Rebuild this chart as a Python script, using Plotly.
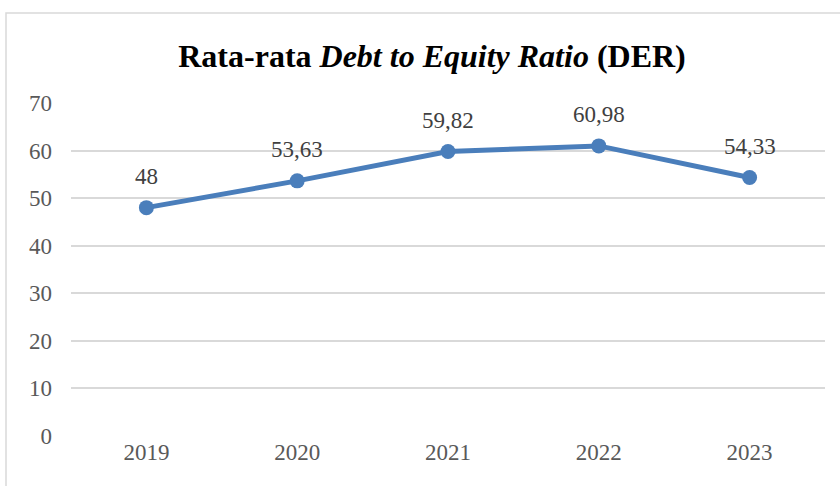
import plotly.graph_objects as go

years = ["2019", "2020", "2021", "2022", "2023"]
der = [48, 53.63, 59.82, 60.98, 54.33]
labels = ["48", "53,63", "59,82", "60,98", "54,33"]
y_ticks = [0, 10, 20, 30, 40, 50, 60, 70]

W, H = 840, 486
L, R, T, B = 71, 15, 103, 50
SERIF = "Liberation Serif, Times New Roman, serif"
COLOR = "#4a7ebb"

fig = go.Figure()
fig.add_trace(go.Scatter(
    x=years, y=der, mode="lines+markers",
    line=dict(color=COLOR, width=5),
    marker=dict(color=COLOR, size=15),
    cliponaxis=False, hoverinfo="skip",
))

# category index positions (numeric-looking category strings)
for i, (yv, t) in enumerate(zip(der, labels)):
    fig.add_annotation(x=i, y=yv, text=t, showarrow=False, yshift=31,
                       font=dict(family=SERIF, size=23, color="#404040"))

pw = W - L - R
ph = H - T - B
fig.add_shape(type="rect", xref="paper", yref="paper",
              x0=(6 - L) / pw, x1=1 + 40 / pw,
              y0=-100 / ph, y1=(H - B - 13) / ph,
              line=dict(color="#d9d9d9", width=1.5), layer="below")

fig.update_layout(
    width=W, height=H,
    margin=dict(l=L, r=R, t=T, b=B),
    paper_bgcolor="white", plot_bgcolor="white",
    showlegend=False,
    title=dict(
        text="Rata-rata <i>Debt to Equity Ratio</i> (DER)",
        x=432 / W, xanchor="center", y=1 - 56 / H, yanchor="middle",
        font=dict(family=SERIF, size=32, color="black", weight="bold"),
    ),
    xaxis=dict(type="category", range=[-0.5, 4.5], showgrid=False, zeroline=False,
               showline=False, ticks="",
               tickfont=dict(family=SERIF, size=23, color="#595959")),
    yaxis=dict(range=[0, 70], tickvals=y_ticks, showgrid=True, gridcolor="#d9d9d9",
               gridwidth=1.5, zeroline=False, showline=False, ticks="",
               tickfont=dict(family=SERIF, size=23, color="#595959"),
               ticklabelstandoff=18),
)

fig.write_html("out.html", config={"displayModeBar": False},
               post_script="document.body.style.margin='0';")
